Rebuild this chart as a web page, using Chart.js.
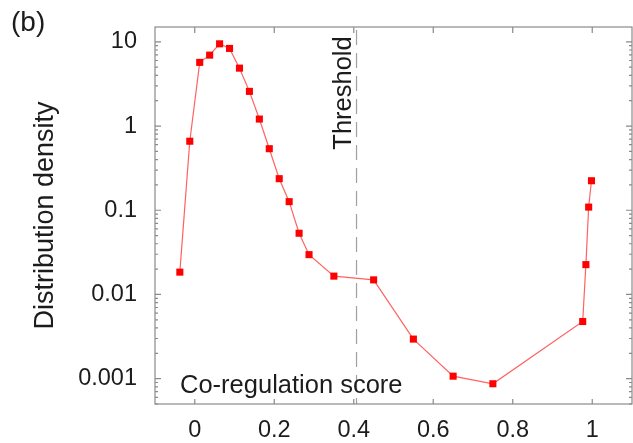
<!DOCTYPE html>
<html lang="en">
<head>
<meta charset="UTF-8">
<title>Co-regulation score distribution</title>
<script src="https://cdn.jsdelivr.net/npm/chart.js"></script>
<style>
    body {
        margin: 0;
        padding: 0;
        background: #fff;
    }
</style>
</head>
<body>
<canvas id="densityChart" width="633" height="443"></canvas>
<script>
    // values (x = co-regulation score, y = density, log scale)
    const scores = [-0.0375, -0.0125, 0.0125, 0.0375, 0.0625, 0.0875, 0.1125, 0.1375,
                    0.1625, 0.1875, 0.2125, 0.2375, 0.2625, 0.2875, 0.35, 0.45,
                    0.55, 0.65, 0.75, 0.976, 0.984, 0.991, 0.998];
    const density = [0.0184, 0.66, 5.7, 6.95, 9.47, 8.35, 4.87, 2.58,
                     1.21, 0.538, 0.237, 0.1265, 0.0533, 0.0297, 0.0165, 0.0149,
                     0.00295, 0.00107, 0.00087, 0.00477, 0.0226, 0.109, 0.224];
    const xTicks = [0, 0.2, 0.4, 0.6, 0.8, 1];
    const xTickLabels = ['0', '0.2', '0.4', '0.6', '0.8', '1'];
    const yTicks = [0.001, 0.01, 0.1, 1, 10];
    const yTickLabels = ['0.001', '0.01', '0.1', '1', '10'];
    const thresholdScore = 0.407;

    const FONT = "'Liberation Sans', Arial, sans-serif";
    const AXIS_GRAY = '#8a8a8a';
    const TEXT = '#1c1c1c';

    // labels overflowing the axis shouldn't push the plot box around
    function noPadding(s) {
        s.paddingTop = 0;
        s.paddingBottom = 0;
        s.paddingLeft = 0;
        s.paddingRight = 0;
    }

    // gnuplot-like frame: box, inward ticks, threshold line and labels
    const framePlugin = {
        id: 'framePlugin',
        beforeDatasetsDraw(chart) {
            const ctx = chart.ctx;
            const area = chart.chartArea;
            const px = chart.scales.x.getPixelForValue(thresholdScore);
            ctx.save();
            ctx.strokeStyle = '#a0a0a0';
            ctx.lineWidth = 1.2;
            ctx.setLineDash([15, 8]);
            ctx.beginPath();
            ctx.moveTo(px, area.top + 3);
            ctx.lineTo(px, area.bottom);
            ctx.stroke();
            ctx.restore();
        },
        afterDraw(chart) {
            const ctx = chart.ctx;
            const area = chart.chartArea;
            const x = chart.scales.x;
            const y = chart.scales.y;
            ctx.save();
            ctx.strokeStyle = AXIS_GRAY;
            ctx.lineWidth = 1.2;
            ctx.strokeRect(area.left, area.top, area.right - area.left, area.bottom - area.top);

            ctx.beginPath();
            xTicks.forEach(v => {
                const p = x.getPixelForValue(v);
                ctx.moveTo(p, area.bottom);
                ctx.lineTo(p, area.bottom - 5);
                ctx.moveTo(p, area.top);
                ctx.lineTo(p, area.top + 6);
            });
            for (let d = 0.0001; d <= 10; d *= 10) {
                for (let m = 1; m <= 9; m++) {
                    const v = m * d;
                    if (v < y.min || v > y.max) continue;
                    const p = y.getPixelForValue(v);
                    const len = m === 1 ? 6 : 3;
                    ctx.moveTo(area.left, p);
                    ctx.lineTo(area.left + len, p);
                    ctx.moveTo(area.right, p);
                    ctx.lineTo(area.right - len, p);
                }
            }
            ctx.stroke();

            ctx.fillStyle = TEXT;
            ctx.textAlign = 'left';
            ctx.textBaseline = 'alphabetic';
            ctx.font = '28px ' + FONT;
            ctx.fillText('(b)', 11, 31);
            ctx.font = '25.5px ' + FONT;
            ctx.fillText('Co-regulation score', area.left + 25, area.bottom - 11);

            ctx.translate(x.getPixelForValue(thresholdScore) - 6, 93);
            ctx.rotate(-Math.PI / 2);
            ctx.textAlign = 'center';
            ctx.fillText('Threshold', 0, 0);
            ctx.restore();
        }
    };

    const ctx = document.getElementById('densityChart').getContext('2d');
    const chart = new Chart(ctx, {
        type: 'line',
        data: {
            datasets: [{
                data: scores.map((s, i) => ({ x: s, y: density[i] })),
                borderColor: 'rgba(255, 70, 70, 0.85)',
                borderWidth: 1.2,
                pointStyle: 'rect',
                pointRadius: 5,
                pointBackgroundColor: '#ff0000',
                pointBorderColor: '#ff0000',
                pointBorderWidth: 0,
                tension: 0
            }]
        },
        options: {
            responsive: false,
            animation: false,
            devicePixelRatio: 1,
            layout: {
                autoPadding: false,
                padding: { top: 27, right: 1, left: 0, bottom: 0 }
            },
            plugins: {
                legend: { display: false },
                tooltip: { enabled: false }
            },
            scales: {
                x: {
                    type: 'linear',
                    min: -0.1,
                    max: 1.1,
                    grid: { display: false, drawTicks: false },
                    border: { display: false },
                    afterBuildTicks: s => { s.ticks = xTicks.map(v => ({ value: v })); },
                    afterFit: s => { s.height = 39; noPadding(s); },
                    ticks: {
                        padding: 12,
                        color: TEXT,
                        font: { family: FONT, size: 23.5 },
                        maxRotation: 0,
                        callback: (v) => xTickLabels[xTicks.indexOf(v)]
                    }
                },
                y: {
                    type: 'logarithmic',
                    min: 0.0005,
                    max: 15,
                    grid: { display: false, drawTicks: false },
                    border: { display: false },
                    afterBuildTicks: s => { s.ticks = yTicks.map(v => ({ value: v })); },
                    afterFit: s => { s.width = 155; noPadding(s); },
                    ticks: {
                        padding: 18,
                        color: TEXT,
                        font: { family: FONT, size: 23.5 },
                        callback: (v) => yTickLabels[yTicks.indexOf(v)]
                    },
                    title: {
                        display: true,
                        text: 'Distribution density',
                        color: TEXT,
                        font: { family: FONT, size: 27 },
                        padding: { top: 29, bottom: 0 }
                    }
                }
            }
        },
        plugins: [framePlugin]
    });
</script>
</body>
</html>
